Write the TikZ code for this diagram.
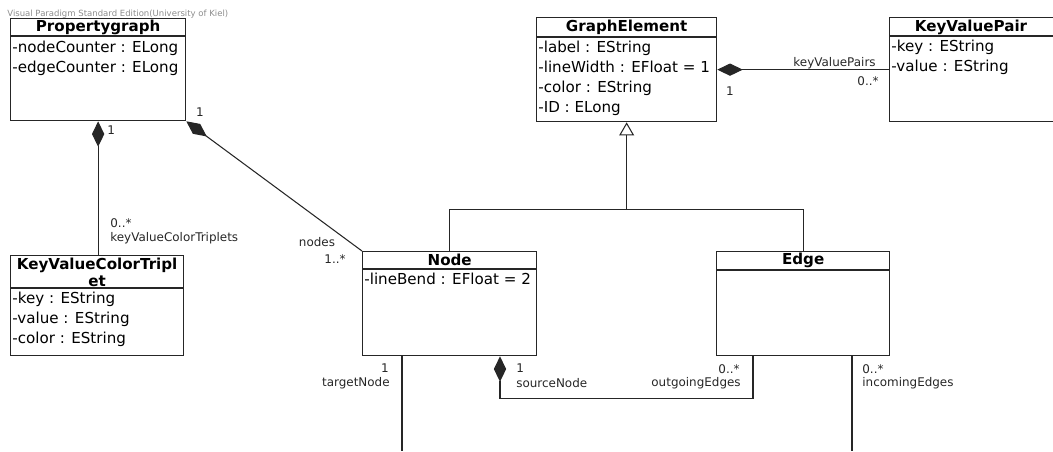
\documentclass[tikz,border=0pt]{standalone}
\usepackage{fontspec}
\setmainfont{DejaVu Sans}
\usetikzlibrary{arrows.meta,calc}

\tikzset{
  klasse/.style={draw=black!85, line width=0.75pt, fill=white, inner sep=0pt, anchor=north west},
  kname/.style={font=\fontsize{8.6}{9.6}\selectfont\bfseries, inner sep=0pt, align=center},
  attr/.style={font=\fontsize{8.6}{11.3}\selectfont, inner sep=0pt, anchor=north west, align=left},
  lbl/.style={font=\fontsize{6.8}{8}\selectfont, text=black!85, inner sep=0pt},
  verb/.style={draw=black!85, line width=0.6pt},
  komp/.style={verb, {Diamond[length=14.5pt,width=7pt]}-},
  erbt/.style={verb, -{Triangle[open,length=7.5pt,width=8.5pt,fill=white]}},
}

\begin{document}
\begin{tikzpicture}[x=0.02cm, y=-0.02cm]
\useasboundingbox (0,0) rectangle (1053,451);

% Propertygraph
\node[klasse, minimum width=3.5cm, minimum height=2.04cm] (pg) at (10,18) {};
\draw[verb] ($(pg.north west)+(0,18)$) -- ($(pg.north east)+(0,18)$);
\node[kname] (pg-name) at ($(pg.north)+(0,9)$) {Propertygraph};
\node[attr] (pg-attr) at ($(pg.north west)+(2,23)$) {-nodeCounter : ELong\\-edgeCounter : ELong};

% GraphElement
\node[klasse, minimum width=3.6cm, minimum height=2.08cm] (ge) at (536,17) {};
\draw[verb] ($(ge.north west)+(0,20)$) -- ($(ge.north east)+(0,20)$);
\node[kname] (ge-name) at ($(ge.north)+(0,10)$) {GraphElement};
\node[attr] (ge-attr) at ($(ge.north west)+(2,24)$) {-label : EString\\-lineWidth : EFloat = 1\\-color : EString\\-ID : ELong};

% KeyValuePair
\node[klasse, minimum width=3.5cm, minimum height=2.08cm] (kvp) at (889,17) {};
\draw[verb] ($(kvp.north west)+(0,19)$) -- ($(kvp.north east)+(0,19)$);
\node[kname] (kvp-name) at ($(kvp.north west)+(82,10)$) {KeyValuePair};
\node[attr] (kvp-attr) at ($(kvp.north west)+(2,23)$) {-key : EString\\-value : EString};

% KeyValueColorTriplet
\node[klasse, minimum width=3.46cm, minimum height=2.0cm] (kvct) at (10,255) {};
\draw[verb] ($(kvct.north west)+(0,33)$) -- ($(kvct.north east)+(0,33)$);
\node[kname] (kvct-name) at ($(kvct.north)+(0,17)$) {KeyValueColorTripl\\et};
\node[attr] (kvct-attr) at ($(kvct.north west)+(2,37)$) {-key : EString\\-value : EString\\-color : EString};

% Node
\node[klasse, minimum width=3.48cm, minimum height=2.08cm] (node) at (362,251) {};
\draw[verb] ($(node.north west)+(0,18)$) -- ($(node.north east)+(0,18)$);
\node[kname] (node-name) at ($(node.north)+(0,9)$) {Node};
\node[attr] (node-attr) at ($(node.north west)+(2,22)$) {-lineBend : EFloat = 2};

% Edge
\node[klasse, minimum width=3.46cm, minimum height=2.08cm] (edge) at (716,251) {};
\draw[verb] ($(edge.north west)+(0,19)$) -- ($(edge.north east)+(0,19)$);
\node[kname] (edge-name) at ($(edge.north)+(0,9)$) {Edge};

% Vererbung
\coordinate (gen) at ($(ge.south)+(0,87)$);
\draw[verb] (node.north) |- (gen) -| (edge.north);
\draw[erbt] (gen) -- (ge.south);

% Kompositionen
\draw[komp] (pg.south) -- (pg.south |- kvct.north);
\draw[komp] (pg.south east) -- (node.north west);
\draw[komp] (ge.east) -- (kvp.west);
\coordinate (nsrc) at ($(node.south west)+(138,0)$);
\coordinate (eout) at ($(edge.south west)+(37,0)$);
\draw[komp] (nsrc) -- ++(0,42) -| (eout);

% Assoziationen nach unten
\coordinate (tgt) at (402,451);
\coordinate (inc) at (852,451);
\draw[verb] ($(node.south west)+(40,0)$) -- (tgt);
\draw[verb] ($(edge.south west)+(136,0)$) -- (inc);

% Rollen und Multiplizitaeten
\node[lbl, anchor=west] (m1) at (107,130) {1};
\node[lbl, anchor=west] (m2) at (110,223) {0..*};
\node[lbl, anchor=west] (r1) at (110,238) {keyValueColorTriplets};
\node[lbl] (m3) at (200,112) {1};
\node[lbl] (r2) at (317,242) {nodes};
\node[lbl, anchor=east] (m4) at (346,259) {1..*};
\node[lbl] (m5) at (730,91) {1};
\node[lbl, anchor=east] (r3) at (876,63) {keyValuePairs};
\node[lbl, anchor=east] (m6) at (879,81) {0..*};
\node[lbl] (m7) at (385,368) {1};
\node[lbl, anchor=east] (r4) at (390,383) {targetNode};
\node[lbl, anchor=west] (m8) at (516,368) {1};
\node[lbl, anchor=west] (r5) at (516,383) {sourceNode};
\node[lbl, anchor=east] (m9) at (740,369) {0..*};
\node[lbl, anchor=east] (r6) at (741,383) {outgoingEdges};
\node[lbl, anchor=west] (m10) at (862,369) {0..*};
\node[lbl, anchor=west] (r7) at (862,383) {incomingEdges};

% Wasserzeichen
\node[font=\fontsize{4.85}{6}\selectfont, text=black!45, anchor=west, inner sep=0pt] (wm) at (7,14) {Visual Paradigm Standard Edition(University of Kiel)};
\end{tikzpicture}
\end{document}
